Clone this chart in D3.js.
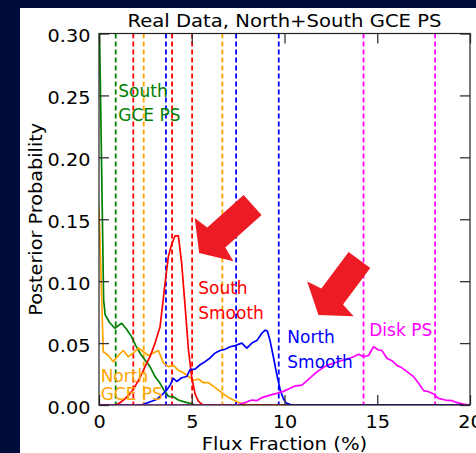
<!DOCTYPE html>
<html><head><meta charset="utf-8">
<script src="https://cdn.jsdelivr.net/npm/d3@7"></script>
<style>html,body{margin:0;padding:0;background:#000c3a;}svg{display:block}</style>
</head><body>
<svg id="c" width="476" height="453"></svg>
<script>
// ---------- data ----------
const xTicks = [0, 5, 10, 15, 20];
const xTickLabels = ["0", "5", "10", "15", "20"];
const yTicks = [0, 0.05, 0.10, 0.15, 0.20, 0.25, 0.30];
const yTickLabels = ["0.00", "0.05", "0.10", "0.15", "0.20", "0.25", "0.30"];
const titleText = "Real Data, North+South GCE PS";
const xLabelText = "Flux Fraction (%)";
const yLabelText = "Posterior Probability";

const southGceX = [0.0, 0.25, 0.33, 0.55, 0.85, 1.22, 1.5, 1.76, 1.98, 2.25, 2.5, 2.75, 3.02, 3.29, 3.5, 3.74, 4.0, 4.28, 4.55, 4.9, 5.2, 20];
const southGceY = [0.33, 0.085, 0.073, 0.067, 0.062, 0.066, 0.061, 0.055, 0.048, 0.041, 0.036, 0.031, 0.023, 0.0175, 0.012, 0.007, 0.0067, 0.004, 0.0027, 0.0013, 0, 0];
const southGceLines = [0.90];

const northGceX = [0.0, 0.23, 0.5, 0.77, 1.04, 1.31, 1.58, 1.85, 2.12, 2.39, 2.66, 2.93, 3.2, 3.47, 3.74, 4.01, 4.28, 4.55, 4.82, 5.09, 5.36, 5.63, 5.9, 6.17, 6.44, 6.71, 6.98, 7.25, 7.52, 7.79, 8.1, 20];
const northGceY = [0.16, 0.043, 0.040, 0.035, 0.040, 0.044, 0.039, 0.042, 0.046, 0.043, 0.040, 0.042, 0.044, 0.034, 0.031, 0.032, 0.028, 0.026, 0.023, 0.020, 0.021, 0.018, 0.018, 0.015, 0.012, 0.009, 0.006, 0.004, 0.002, 0.001, 0, 0];
const northGceLines = [2.41, 6.65];

const southSmoothX = [0, 0.9, 1.15, 1.4, 1.67, 1.94, 2.21, 2.48, 2.75, 3.02, 3.29, 3.56, 3.74, 3.92, 4.1, 4.28, 4.46, 4.64, 4.82, 5.0, 5.18, 5.36, 5.6, 20];
const southSmoothY = [0, 0, 0.002, 0.005, 0.009, 0.015, 0.022, 0.031, 0.039, 0.050, 0.063, 0.098, 0.12, 0.13, 0.1365, 0.1365, 0.114, 0.08, 0.045, 0.022, 0.009, 0.003, 0, 0];
const southSmoothLines = [1.85, 3.94, 5.02];

const northSmoothX = [0, 2.3, 2.57, 2.84, 3.1, 3.38, 3.65, 3.83, 4.0, 4.19, 4.46, 4.73, 4.91, 5.18, 5.45, 5.72, 5.99, 6.26, 6.53, 6.8, 7.07, 7.34, 7.7, 7.97, 8.24, 8.51, 8.78, 8.96, 9.08, 9.22, 9.4, 9.58, 9.77, 9.94, 10.1, 10.4, 20];
const northSmoothY = [0, 0, 0.0015, 0.003, 0.0045, 0.008, 0.012, 0.016, 0.0215, 0.019, 0.022, 0.023, 0.0285, 0.029, 0.0325, 0.035, 0.038, 0.042, 0.044, 0.045, 0.047, 0.048, 0.050, 0.046, 0.050, 0.052, 0.058, 0.0605, 0.0595, 0.052, 0.039, 0.025, 0.012, 0.005, 0.0015, 0, 0];
const northSmoothLines = [3.61, 7.39, 9.69];

const diskX = [0, 7.43, 7.88, 8.24, 8.51, 8.78, 9.22, 9.58, 9.94, 10.3, 10.6, 10.94, 11.29, 11.65, 12.02, 12.28, 12.64, 13.0, 13.36, 13.72, 13.99, 14.26, 14.53, 14.8, 15.07, 15.25, 15.52, 15.79, 16.06, 16.33, 16.6, 16.96, 17.23, 17.5, 17.77, 18.04, 18.3, 18.67, 19.03, 19.3, 19.66, 20];
const diskY = [0, 0, 0.002, 0.004, 0.0035, 0.006, 0.008, 0.0094, 0.011, 0.0135, 0.0155, 0.016, 0.0207, 0.0256, 0.0296, 0.032, 0.0337, 0.0355, 0.037, 0.039, 0.041, 0.039, 0.040, 0.047, 0.0444, 0.044, 0.0377, 0.0358, 0.032, 0.030, 0.027, 0.0229, 0.0175, 0.0116, 0.0107, 0.0089, 0.0054, 0.004, 0.0035, 0.0019, 0.0008, 0];
const diskLines = [14.26, 18.12];

// ---------- configuration ----------
const series = [
  {label: ["South", "GCE PS"], color: "#008000", xs: southGceX, ys: southGceY, vlines: southGceLines, lx: 1.04, ly: 0.2487, gap: 23.5},
  {label: ["North", "GCE PS"], color: "#ffa500", xs: northGceX, ys: northGceY, vlines: northGceLines, lx: 0.09, ly: 0.0188, gap: 18.5},
  {label: ["South", "Smooth"], color: "#ff0000", xs: southSmoothX, ys: southSmoothY, vlines: southSmoothLines, lx: 5.35, ly: 0.0896, gap: 25},
  {label: ["North", "Smooth"], color: "#0000ff", xs: northSmoothX, ys: northSmoothY, vlines: northSmoothLines, lx: 10.15, ly: 0.0498, gap: 25},
  {label: ["Disk PS"], color: "#ff00ff", xs: diskX, ys: diskY, vlines: diskLines, lx: 14.57, ly: 0.0557, gap: 25}
];
// arrows: tip and tail in data coordinates
const arrows = [
  {tip: [5.40, 0.1228], tail: [8.28, 0.1615]},
  {tip: [11.83, 0.0727], tail: [14.04, 0.1171]}
];

const W = 476, H = 453;
const m = {l: 99, r: 470, t: 33.5, b: 405};
const svg = d3.select("#c");
svg.append("rect").attr("width", W).attr("height", H).attr("fill", "#000c3a");
svg.append("rect").attr("x", 20).attr("y", 8).attr("width", W - 20).attr("height", H - 8).attr("fill", "#ffffff");

const x = d3.scaleLinear().domain([0, 20]).range([m.l, m.r]);
const y = d3.scaleLinear().domain([0, 0.3]).range([m.b, m.t]);
const FONT = "DejaVu Sans, Bitstream Vera Sans, sans-serif";
const SX = 1.07;

svg.append("clipPath").attr("id", "pc").append("rect")
  .attr("x", m.l).attr("y", m.t).attr("width", m.r - m.l).attr("height", m.b - m.t);
const plot = svg.append("g").attr("clip-path", "url(#pc)");

series.forEach(s => {
  s.vlines.forEach(v => {
    plot.append("line")
      .attr("x1", x(v)).attr("x2", x(v)).attr("y1", y(0.3)).attr("y2", y(0))
      .attr("stroke", s.color).attr("stroke-width", 1.8).attr("stroke-dasharray", "5,3");
  });
});

const line = d3.line().x(d => x(d[0])).y(d => y(d[1]));
series.forEach(s => {
  plot.append("path").datum(d3.zip(s.xs, s.ys)).attr("d", line)
    .attr("fill", "none").attr("stroke", s.color).attr("stroke-width", 1.7)
    .attr("stroke-linejoin", "round");
});

// axes
function styleAxis(g) {
  g.select(".domain").remove();
  g.selectAll(".tick line").attr("stroke", "#333").attr("stroke-width", 1.3);
  g.attr("font-family", FONT).attr("font-size", 18);
}
const gb = svg.append("g").attr("transform", `translate(0,${m.b})`)
  .call(d3.axisBottom(x).tickValues(xTicks).tickFormat((d, i) => xTickLabels[i]).tickSize(-10).tickSizeOuter(0));
styleAxis(gb);
gb.selectAll("text").attr("y", 23).attr("dy", 0).attr("fill", "#000").attr("transform", `scale(${SX},1)`);

const gl = svg.append("g").attr("transform", `translate(${m.l},0)`)
  .call(d3.axisLeft(y).tickValues(yTicks).tickFormat((d, i) => yTickLabels[i]).tickSize(-10).tickPadding(8).tickSizeOuter(0));
styleAxis(gl);
gl.selectAll("text").attr("dy", "0.45em").attr("fill", "#000").attr("transform", `scale(${SX},1)`);

const gt = svg.append("g").attr("transform", `translate(0,${m.t})`)
  .call(d3.axisTop(x).tickValues(xTicks).tickSize(-10).tickSizeOuter(0));
styleAxis(gt); gt.selectAll("text").remove();
const gr = svg.append("g").attr("transform", `translate(${m.r},0)`)
  .call(d3.axisRight(y).tickValues(yTicks).tickSize(-10).tickSizeOuter(0));
styleAxis(gr); gr.selectAll("text").remove();

svg.append("rect").attr("x", m.l).attr("y", m.t).attr("width", m.r - m.l).attr("height", m.b - m.t)
  .attr("fill", "none").attr("stroke", "#222").attr("stroke-width", 1.2);

// labels
series.forEach(s => {
  const t = svg.append("text").attr("font-family", FONT).attr("font-size", 17).attr("fill", s.color);
  s.label.forEach((ln, i) => {
    t.append("tspan").attr("x", x(s.lx)).attr("y", y(s.ly) + i * s.gap).text(ln);
  });
});

// arrows
arrows.forEach(a => {
  const tp = [x(a.tip[0]), y(a.tip[1])], tl = [x(a.tail[0]), y(a.tail[1])];
  const dx = tp[0] - tl[0], dy = tp[1] - tl[1], L = Math.hypot(dx, dy);
  const u = [dx / L, dy / L], n = [-u[1], u[0]];
  const sw = 13.5, hw = 29, hl = 20, sweep = 3;
  const P = (along, perp) => [tp[0] - u[0] * along + n[0] * perp, tp[1] - u[1] * along + n[1] * perp];
  const pts = [P(L, sw), P(hl + sweep, sw), P(hl, hw), P(0, 0), P(hl, -hw), P(hl + sweep, -sw), P(L, -sw)];
  svg.append("path").attr("d", "M" + pts.map(p => p.join(",")).join("L") + "Z").attr("fill", "#ed1c24");
});

// title and axis labels
svg.append("text").attr("transform", `translate(${(m.l + m.r) / 2},27) scale(1.09,1)`)
  .attr("text-anchor", "middle").attr("font-family", FONT).attr("font-size", 18).attr("fill", "#000").text(titleText);
svg.append("text").attr("transform", `translate(${(m.l + m.r) / 2},450) scale(1.09,1)`)
  .attr("text-anchor", "middle").attr("font-family", FONT).attr("font-size", 18).attr("fill", "#000").text(xLabelText);
svg.append("text").attr("transform", `translate(42,${(m.t + m.b) / 2}) rotate(-90) scale(1.07,1)`)
  .attr("text-anchor", "middle").attr("font-family", FONT).attr("font-size", 18).attr("fill", "#000").text(yLabelText);
</script>
</body></html>
